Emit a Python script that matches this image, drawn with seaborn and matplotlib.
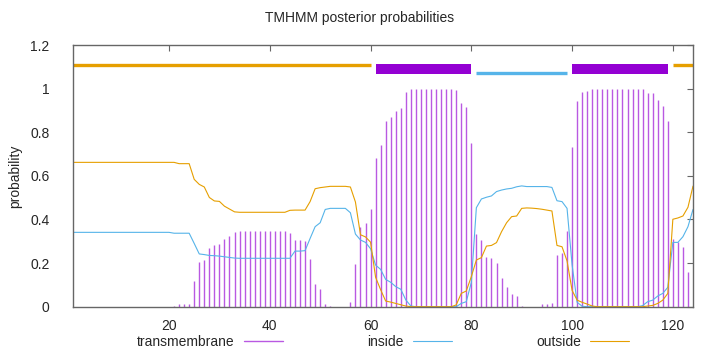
import numpy as np
import pandas as pd
import seaborn as sns
import matplotlib
matplotlib.use("Agg")
from matplotlib import pyplot as plt
from matplotlib.lines import Line2D

# posterior probabilities per residue (1..124)
transmembrane = [
    0, 0, 0, 0, 0, 0, 0, 0, 0, 0,
    0, 0, 0, 0, 0, 0, 0, 0, 0, 0,
    0.005, 0.012, 0.012, 0.012, 0.118, 0.203, 0.216, 0.269, 0.285, 0.287,
    0.310, 0.325, 0.342, 0.349, 0.349, 0.349, 0.349, 0.349, 0.349, 0.349,
    0.349, 0.349, 0.349, 0.338, 0.307, 0.307, 0.301, 0.219, 0.103, 0.080,
    0.012, 0.002, 0, 0, 0, 0.023, 0.194, 0.365, 0.384, 0.448,
    0.683, 0.742, 0.852, 0.870, 0.898, 0.911, 0.983, 0.997, 1.0, 1.0,
    1.0, 1.0, 1.0, 1.0, 1.0, 0.997, 0.994, 0.934, 0.916, 0.751,
    0.333, 0.304, 0.229, 0.223, 0.202, 0.131, 0.089, 0.056, 0.050, 0.003,
    0, 0, 0, 0.011, 0.014, 0.017, 0.237, 0.246, 0.349, 0.732,
    0.943, 0.983, 0.989, 1.0, 1.0, 1.0, 1.0, 1.0, 1.0, 1.0,
    1.0, 1.0, 1.0, 1.0, 0.980, 0.979, 0.950, 0.919, 0.850, 0.312,
    0.297, 0.274, 0.161, 0.0,
]
inside = [
    0.341, 0.341, 0.341, 0.341, 0.341, 0.341, 0.341, 0.341, 0.341, 0.341,
    0.341, 0.341, 0.341, 0.341, 0.341, 0.341, 0.341, 0.341, 0.341, 0.341,
    0.337, 0.337, 0.337, 0.337, 0.290, 0.242, 0.239, 0.235, 0.234, 0.232,
    0.229, 0.226, 0.223, 0.222, 0.222, 0.222, 0.222, 0.222, 0.222, 0.222,
    0.222, 0.222, 0.222, 0.222, 0.255, 0.255, 0.257, 0.313, 0.367, 0.385,
    0.446, 0.451, 0.451, 0.451, 0.451, 0.431, 0.333, 0.306, 0.295, 0.266,
    0.191, 0.171, 0.125, 0.112, 0.092, 0.080, 0.031, 0.003, 0, 0,
    0, 0, 0, 0, 0, 0, 0, 0.015, 0.023, 0.111,
    0.454, 0.494, 0.502, 0.508, 0.528, 0.535, 0.540, 0.543, 0.550, 0.554,
    0.551, 0.551, 0.551, 0.551, 0.551, 0.547, 0.486, 0.482, 0.451, 0.192,
    0.020, 0.002, 0, 0, 0, 0, 0, 0, 0, 0,
    0, 0, 0, 0.005, 0.023, 0.030, 0.049, 0.061, 0.089, 0.295,
    0.295, 0.321, 0.367, 0.446,
]
outside = [
    0.662, 0.662, 0.662, 0.662, 0.662, 0.662, 0.662, 0.662, 0.662, 0.662,
    0.662, 0.662, 0.662, 0.662, 0.662, 0.662, 0.662, 0.662, 0.662, 0.662,
    0.662, 0.656, 0.656, 0.656, 0.584, 0.561, 0.549, 0.501, 0.485, 0.483,
    0.461, 0.448, 0.435, 0.433, 0.433, 0.433, 0.433, 0.433, 0.433, 0.433,
    0.433, 0.433, 0.433, 0.442, 0.443, 0.443, 0.443, 0.482, 0.541, 0.546,
    0.549, 0.552, 0.552, 0.552, 0.552, 0.549, 0.480, 0.330, 0.320, 0.296,
    0.135, 0.078, 0.026, 0.021, 0.015, 0.009, 0.003, 0, 0, 0,
    0, 0, 0, 0, 0, 0, 0.008, 0.061, 0.072, 0.138,
    0.214, 0.225, 0.278, 0.281, 0.294, 0.344, 0.385, 0.413, 0.416, 0.451,
    0.453, 0.452, 0.450, 0.447, 0.443, 0.439, 0.281, 0.275, 0.210, 0.075,
    0.030, 0.020, 0.012, 0.003, 0, 0, 0, 0, 0, 0,
    0, 0, 0, 0, 0.003, 0.006, 0.015, 0.030, 0.061, 0.401,
    0.407, 0.416, 0.456, 0.553,
]

# predicted topology
seg_start = [1, 61, 81, 100, 120]
seg_end = [60, 80, 99, 119, 124]
seg_type = ["outside", "TMhelix", "inside", "TMhelix", "outside"]

xticks = [20, 40, 60, 80, 100, 120]
yticks = [0, 0.2, 0.4, 0.6, 0.8, 1.0, 1.2]
ytick_labels = ["0", "0.2", "0.4", "0.6", "0.8", "1", "1.2"]

df = pd.DataFrame({
    "residue": np.arange(1, len(transmembrane) + 1),
    "transmembrane": transmembrane,
    "inside": inside,
    "outside": outside,
})

c_tm = "#9400d3"
c_in = "#56b4e9"
c_out = "#e69f00"

sns.set_style("white")
plt.rcParams["font.family"] = ["Liberation Sans", "DejaVu Sans"]
plt.rcParams["font.size"] = 10

fig = plt.figure(figsize=(7.2, 3.52), dpi=100)
ax = fig.add_axes([0.1018, 0.1287, 0.8607, 0.7433])

# topology bars above the curves
seg_style = {
    "outside": dict(color=c_out, y=1.11, lw=2.4),
    "inside": dict(color=c_in, y=1.07, lw=2.4),
    "TMhelix": dict(color=c_tm, y=1.09, lw=7.2),
}
for s, e, t in zip(seg_start, seg_end, seg_type):
    st = seg_style[t]
    ax.plot([s, e], [st["y"], st["y"]], color=st["color"], lw=st["lw"],
            solid_capstyle="butt")

ax.vlines(df["residue"], 0, df["transmembrane"], color=c_tm, lw=1.0, alpha=0.65)
sns.lineplot(data=df, x="residue", y="inside", color=c_in, lw=0.8, ax=ax)
sns.lineplot(data=df, x="residue", y="outside", color=c_out, lw=0.8, ax=ax)

ax.set_xlim(1, 124)
ax.set_ylim(0, 1.2)
ax.set_xticks(xticks)
ax.set_yticks(yticks)
ax.set_yticklabels(ytick_labels)
ax.set_xlabel("")
ax.set_ylabel("")
ax.tick_params(direction="in", length=4, width=0.8, color="#666666",
               top=True, right=True, labelsize=10)
ax.tick_params(axis="x", pad=9)
ax.tick_params(axis="y", pad=17)
for sp in ax.spines.values():
    sp.set_color("#666666")
    sp.set_linewidth(1.0)

fig.text(0.5, 1 - 18 / 352, "TMHMM posterior probabilities", ha="center",
         va="center", fontsize=10)
fig.text(15 / 720, 1 - 176 / 352, "probability", rotation=90, ha="center",
         va="center", fontsize=10)

handles = [
    Line2D([], [], color=c_tm, lw=1.0, alpha=0.65),
    Line2D([], [], color=c_in, lw=0.8),
    Line2D([], [], color=c_out, lw=0.8),
]
fig.legend(handles, ["transmembrane", "inside", "outside"], loc="center",
           bbox_to_anchor=(0.532, 0.029), ncol=3, frameon=False,
           markerfirst=False, handlelength=2.8, handletextpad=0.65,
           columnspacing=6.1, fontsize=10, borderpad=0)

fig.savefig("out.png", dpi=100)
